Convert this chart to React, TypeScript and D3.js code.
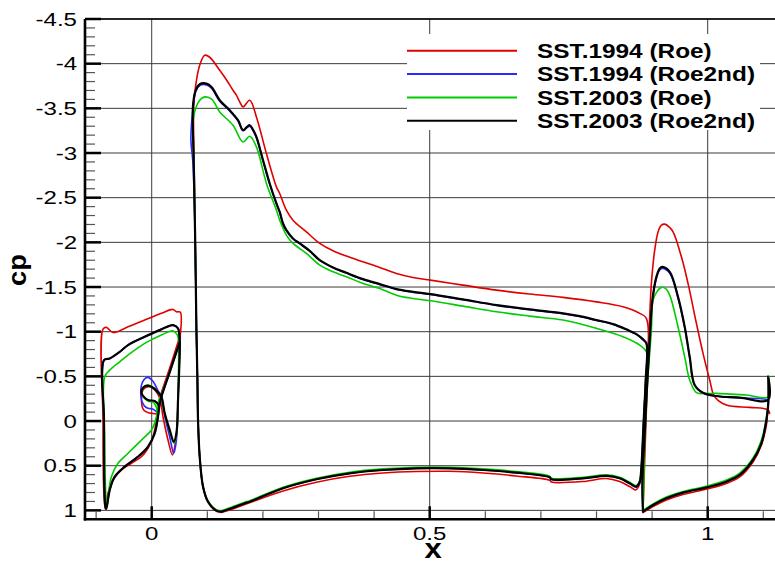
import React from "react";
import * as d3 from "d3";

type P = [number, number];

// ---------- tick values ----------
const yMajorTicks = [-4.5, -4, -3.5, -3, -2.5, -2, -1.5, -1, -0.5, 0, 0.5, 1];
const yTickLabels = ["-4.5", "-4", "-3.5", "-3", "-2.5", "-2", "-1.5", "-1", "-0.5", "0", "0.5", "1"];
const xMajorTicks = [0, 0.5, 1];
const xTickLabels = ["0", "0.5", "1"];

// ---------- series ----------
const seriesNames = ["SST.1994 (Roe)", "SST.1994 (Roe2nd)", "SST.2003 (Roe)", "SST.2003 (Roe2nd)"];
const seriesColors = ["#e00000", "#2a2aff", "#00cc00", "#000000"];

// SST.1994 (Roe)
const roe94Slat: P[] = [[0.0513,-0.962],[0.0513,-1.219],[0.0444,-1.223],[0.0383,-1.249],[0.0174,-1.205],[-0.0126,-1.130],[-0.0426,-1.055],[-0.0696,-0.992],[-0.0815,-1.048],[-0.0876,-1.029],[-0.0876,-0.011],[-0.0863,0.772],[-0.0836,0.984],[-0.0786,0.809],[-0.0696,0.660],[-0.0545,0.548],[-0.0365,0.473],[-0.0185,0.399],[-0.0067,0.305],[0.0023,0.176],[0.0085,-0.011],[0.0113,-0.160],[0.0144,-0.257],[0.0324,-0.593],[0.0513,-0.962]];
const roe94Cove: P[] = [[0.0095,-0.08],[0.0030,-0.085],[-0.0036,-0.089],[-0.0144,-0.123],[-0.0185,-0.257],[-0.0144,-0.358],[-0.0036,-0.384],[0.0054,-0.347],[0.0144,-0.257],[0.0203,-0.048],[0.0293,0.213],[0.0372,0.380],[0.0414,0.287],[0.0455,0.064],[0.0473,-0.235],[0.0491,-0.607],[0.0513,-0.962]];
const roe94Main: P[] = [[0.1254,1.023],[0.1164,1.01],[0.1013,0.91],[0.0923,0.74],[0.0863,0.40],[0.0833,-0.011],[0.0822,-0.459],[0.0804,-1.018],[0.0782,-2.025],[0.0765,-2.8],[0.0755,-3.516],[0.0791,-3.758],[0.0863,-3.982],[0.0953,-4.094],[0.1043,-4.072],[0.1223,-3.926],[0.1343,-3.82],[0.1462,-3.702],[0.1523,-3.647],[0.1583,-3.572],[0.1642,-3.516],[0.1763,-3.591],[0.1883,-3.404],[0.2063,-2.994],[0.2243,-2.621],[0.2302,-2.547],[0.2422,-2.360],[0.2541,-2.248],[0.2782,-2.117],[0.3022,-1.988],[0.3261,-1.905],[0.3501,-1.846],[0.3801,-1.782],[0.4101,-1.719],[0.4401,-1.652],[0.4700,-1.607],[0.5012,-1.577],[0.5599,-1.521],[0.6200,-1.465],[0.6799,-1.421],[0.7398,-1.384],[0.7998,-1.334],[0.8477,-1.279],[0.8777,-1.205],[0.8897,-1.149],[0.8867,-0.235],[0.8813,0.548],[0.8777,0.705],[0.8705,0.772],[0.8597,0.733],[0.8417,0.677],[0.8178,0.643],[0.7758,0.677],[0.7189,0.682],[0.7158,0.663],[0.6559,0.615],[0.5959,0.582],[0.5360,0.563],[0.4761,0.565],[0.4160,0.582],[0.3561,0.619],[0.2962,0.686],[0.2362,0.783],[0.1673,0.935],[0.1433,0.99],[0.1254,1.023]];
const roe94Flap: P[] = [[0.8836,1.025],[0.8850,0.75],[0.8867,0.436],[0.8903,-0.235],[0.8957,-1.167],[0.8987,-1.540],[0.9047,-1.913],[0.9107,-2.117],[0.9167,-2.192],[0.9227,-2.204],[0.9305,-2.173],[0.9377,-2.117],[0.9527,-1.838],[0.9646,-1.540],[0.9797,-1.093],[0.9916,-0.757],[1.0036,-0.459],[1.0126,-0.272],[1.0336,-0.179],[1.0755,-0.153],[1.1056,-0.131],[1.1115,-0.086],[1.1088,-0.123],[1.1056,0.045],[1.0966,0.268],[1.0815,0.459],[1.0576,0.626],[1.0336,0.699],[0.9988,0.761],[0.9556,0.822],[0.9257,0.884],[0.9017,0.957],[0.8836,1.025]];

// SST.1994 (Roe2nd)
const roe2nd94Slat: P[] = [[0.0504,-0.884],[0.0495,-0.973],[0.0473,-1.037],[0.0383,-1.074],[0.0174,-1.026],[-0.0126,-0.943],[-0.0426,-0.850],[-0.0576,-0.775],[-0.0755,-0.701],[-0.0858,-0.682],[-0.0858,-0.011],[-0.0854,0.66],[-0.0833,0.959],[-0.0818,0.984],[-0.0755,0.772],[-0.0665,0.623],[-0.0486,0.511],[-0.0246,0.399],[-0.0067,0.287],[0.0054,0.138],[0.0113,-0.048],[0.0144,-0.198],[0.0174,-0.272],[0.0324,-0.548],[0.0504,-0.884]];
const roe2nd94Cove: P[] = [[0.0110,-0.09],[0.0018,-0.135],[-0.0067,-0.142],[-0.0144,-0.179],[-0.0198,-0.313],[-0.0144,-0.459],[-0.0067,-0.489],[0.0018,-0.447],[0.0108,-0.347],[0.0174,-0.272],[0.0234,-0.056],[0.0324,0.179],[0.0396,0.361],[0.0444,0.213],[0.0473,-0.235],[0.0504,-0.794],[0.0504,-0.884]];
const roe2nd94Main: P[] = [[0.1254,1.015],[0.1164,1.003],[0.1013,0.903],[0.0923,0.735],[0.0863,0.399],[0.0833,-0.011],[0.0822,-0.459],[0.0804,-1.018],[0.0782,-2.025],[0.0740,-2.9],[0.0705,-3.15],[0.0743,-3.50],[0.0791,-3.690],[0.0863,-3.755],[0.0984,-3.762],[0.1079,-3.722],[0.1223,-3.580],[0.1403,-3.470],[0.1552,-3.360],[0.1642,-3.250],[0.1709,-3.282],[0.1763,-3.300],[0.1817,-3.258],[0.1883,-3.172],[0.2002,-2.912],[0.2122,-2.652],[0.2243,-2.430],[0.2302,-2.336],[0.2362,-2.206],[0.2422,-2.132],[0.2541,-2.040],[0.2662,-1.985],[0.2842,-1.902],[0.3022,-1.798],[0.3261,-1.716],[0.3501,-1.656],[0.3801,-1.585],[0.4101,-1.529],[0.4401,-1.474],[0.4700,-1.443],[0.5012,-1.418],[0.5599,-1.358],[0.6200,-1.295],[0.6799,-1.246],[0.7398,-1.202],[0.7698,-1.171],[0.7998,-1.127],[0.8297,-1.082],[0.8537,-1.023],[0.8717,-0.970],[0.8837,-0.911],[0.8898,-0.866],[0.8885,-0.459],[0.8849,-0.011],[0.8804,0.548],[0.8777,0.685],[0.8717,0.740],[0.8597,0.700],[0.8417,0.641],[0.8178,0.612],[0.7758,0.641],[0.7189,0.652],[0.7158,0.630],[0.6559,0.578],[0.5959,0.548],[0.5360,0.529],[0.4761,0.529],[0.4160,0.548],[0.3561,0.585],[0.2962,0.652],[0.2362,0.753],[0.1763,0.903],[0.1673,0.921],[0.1433,0.977],[0.1254,1.015]];
const roe2nd94Flap: P[] = [[0.8836,1.015],[0.8825,0.697],[0.8867,0.138],[0.8909,-0.384],[0.8957,-0.895],[0.9005,-1.335],[0.9077,-1.595],[0.9137,-1.690],[0.9185,-1.708],[0.9317,-1.655],[0.9466,-1.380],[0.9586,-1.048],[0.9676,-0.712],[0.9766,-0.400],[0.9915,-0.314],[1.0155,-0.278],[1.0576,-0.259],[1.1085,-0.233],[1.1090,-0.20],[1.1056,-0.011],[1.0966,0.249],[1.0815,0.436],[1.0576,0.604],[1.0336,0.679],[0.9988,0.742],[0.9556,0.802],[0.9257,0.865],[0.9017,0.940],[0.8836,1.015]];

// SST.2003 (Roe)
const roe03Slat: P[] = [[0.0486,-0.850],[0.0477,-0.928],[0.0462,-0.962],[0.0383,-1.010],[0.0174,-0.962],[-0.0126,-0.869],[-0.0426,-0.738],[-0.0576,-0.663],[-0.0755,-0.570],[-0.0845,-0.496],[-0.0845,0.213],[-0.0827,0.828],[-0.0809,0.973],[-0.0782,0.828],[-0.0725,0.623],[-0.0606,0.473],[-0.0426,0.361],[-0.0185,0.213],[-0.0005,0.101],[0.0085,-0.048],[0.0113,-0.198],[0.0162,-0.280],[0.0324,-0.548],[0.0486,-0.850]];
const roe03Cove: P[] = [[0.0100,-0.12],[0.0036,-0.205],[-0.0067,-0.224],[-0.0185,-0.313],[-0.0144,-0.380],[-0.0067,-0.403],[0.0036,-0.375],[0.0108,-0.324],[0.0162,-0.280],[0.0234,-0.078],[0.0324,0.112],[0.0401,0.249],[0.0444,0.157],[0.0473,-0.235],[0.0486,-0.850]];
const roe03Main: P[] = [[0.1254,1.005],[0.1164,0.993],[0.1013,0.895],[0.0923,0.73],[0.0863,0.395],[0.0833,-0.011],[0.0822,-0.459],[0.0804,-1.018],[0.0782,-2.025],[0.0760,-2.9],[0.0737,-3.311],[0.0791,-3.501],[0.0863,-3.591],[0.0953,-3.628],[0.1079,-3.602],[0.1223,-3.460],[0.1462,-3.311],[0.1642,-3.124],[0.1763,-3.188],[0.1883,-3.068],[0.2063,-2.66],[0.2243,-2.36],[0.2302,-2.248],[0.2422,-2.081],[0.2541,-1.988],[0.2782,-1.876],[0.3022,-1.745],[0.3261,-1.670],[0.3501,-1.614],[0.3801,-1.540],[0.4101,-1.484],[0.4401,-1.409],[0.4700,-1.372],[0.5012,-1.346],[0.5599,-1.286],[0.6200,-1.223],[0.6799,-1.174],[0.7398,-1.130],[0.7998,-1.037],[0.8477,-0.943],[0.8777,-0.850],[0.8897,-0.775],[0.8885,-0.459],[0.8849,-0.011],[0.8804,0.540],[0.8777,0.67],[0.8717,0.723],[0.8597,0.685],[0.8417,0.629],[0.8178,0.603],[0.7758,0.629],[0.7189,0.640],[0.7158,0.618],[0.6559,0.566],[0.5959,0.536],[0.5360,0.517],[0.4761,0.517],[0.4160,0.536],[0.3561,0.573],[0.2962,0.640],[0.2362,0.741],[0.1763,0.891],[0.1673,0.909],[0.1433,0.965],[0.1254,1.005]];
const roe03Flap: P[] = [[0.8836,1.0],[0.8850,0.7],[0.8867,0.213],[0.8921,-0.459],[0.8987,-1.018],[0.9017,-1.353],[0.9083,-1.443],[0.9167,-1.496],[0.9245,-1.482],[0.9317,-1.409],[0.9466,-1.055],[0.9586,-0.719],[0.9676,-0.459],[0.9797,-0.317],[0.9946,-0.308],[1.0155,-0.310],[1.0696,-0.291],[1.1085,-0.272],[1.1090,-0.51],[1.1090,-0.22],[1.1056,-0.034],[1.0966,0.213],[1.0815,0.414],[1.0576,0.582],[1.0336,0.660],[0.9988,0.727],[0.9556,0.789],[0.9257,0.850],[0.9017,0.928],[0.8836,1.0]];

// SST.2003 (Roe2nd)
const roe2nd03Slat: P[] = [[0.0504,-0.884],[0.0495,-0.973],[0.0473,-1.037],[0.0383,-1.074],[0.0174,-1.026],[-0.0126,-0.943],[-0.0426,-0.850],[-0.0576,-0.775],[-0.0755,-0.701],[-0.0858,-0.682],[-0.0858,-0.011],[-0.0854,0.66],[-0.0833,0.959],[-0.0818,0.984],[-0.0755,0.772],[-0.0665,0.623],[-0.0486,0.511],[-0.0246,0.399],[-0.0067,0.287],[0.0054,0.138],[0.0113,-0.048],[0.0144,-0.198],[0.0174,-0.272],[0.0324,-0.548],[0.0504,-0.884]];
const roe2nd03Cove: P[] = [[0.0135,-0.17],[0.0054,-0.225],[-0.0067,-0.235],[-0.0185,-0.313],[-0.0144,-0.380],[-0.0067,-0.397],[0.0036,-0.369],[0.0108,-0.324],[0.0174,-0.272],[0.0234,-0.086],[0.0324,0.101],[0.0396,0.232],[0.0444,0.138],[0.0473,-0.235],[0.0504,-0.794],[0.0504,-0.884]];
const roe2nd03Main: P[] = [[0.1254,1.015],[0.1164,1.003],[0.1013,0.903],[0.0923,0.735],[0.0863,0.399],[0.0833,-0.011],[0.0822,-0.459],[0.0804,-1.018],[0.0782,-2.025],[0.0755,-2.919],[0.0743,-3.535],[0.0791,-3.702],[0.0863,-3.770],[0.0984,-3.777],[0.1079,-3.736],[0.1223,-3.591],[0.1403,-3.479],[0.1552,-3.367],[0.1642,-3.255],[0.1709,-3.289],[0.1763,-3.311],[0.1817,-3.266],[0.1883,-3.180],[0.2002,-2.919],[0.2122,-2.659],[0.2243,-2.435],[0.2302,-2.341],[0.2362,-2.211],[0.2422,-2.136],[0.2541,-2.043],[0.2662,-1.988],[0.2842,-1.905],[0.3022,-1.801],[0.3261,-1.719],[0.3501,-1.659],[0.3801,-1.588],[0.4101,-1.532],[0.4401,-1.477],[0.4700,-1.446],[0.5012,-1.421],[0.5599,-1.361],[0.6200,-1.298],[0.6799,-1.249],[0.7398,-1.205],[0.7698,-1.174],[0.7998,-1.130],[0.8297,-1.085],[0.8537,-1.026],[0.8717,-0.973],[0.8837,-0.914],[0.8898,-0.869],[0.8885,-0.459],[0.8849,-0.011],[0.8804,0.548],[0.8777,0.682],[0.8717,0.735],[0.8597,0.697],[0.8417,0.641],[0.8178,0.615],[0.7758,0.641],[0.7189,0.652],[0.7158,0.630],[0.6559,0.578],[0.5959,0.548],[0.5360,0.529],[0.4761,0.529],[0.4160,0.548],[0.3561,0.585],[0.2962,0.652],[0.2362,0.753],[0.1763,0.903],[0.1673,0.921],[0.1433,0.977],[0.1254,1.015]];
const roe2nd03Flap: P[] = [[0.8836,1.015],[0.8825,0.697],[0.8867,0.138],[0.8909,-0.384],[0.8957,-0.906],[0.9005,-1.353],[0.9077,-1.614],[0.9137,-1.708],[0.9185,-1.726],[0.9317,-1.670],[0.9466,-1.390],[0.9586,-1.055],[0.9676,-0.719],[0.9766,-0.403],[0.9915,-0.317],[1.0155,-0.280],[1.0576,-0.261],[1.1085,-0.235],[1.1088,-0.496],[1.1090,-0.20],[1.1056,-0.011],[1.0966,0.249],[1.0815,0.436],[1.0576,0.604],[1.0336,0.679],[0.9988,0.742],[0.9556,0.802],[0.9257,0.865],[0.9017,0.940],[0.8836,1.015]];

const seriesCurves: P[][][] = [
  [roe94Slat, roe94Cove, roe94Main, roe94Flap],
  [roe2nd94Slat, roe2nd94Cove, roe2nd94Main, roe2nd94Flap],
  [roe03Slat, roe03Cove, roe03Main, roe03Flap],
  [roe2nd03Slat, roe2nd03Cove, roe2nd03Main, roe2nd03Flap],
];

const W = 775;
const H = 561;
const FONT = "'Liberation Sans', Arial, Helvetica, sans-serif";

export default function App() {
  const left = 85;
  const top = 19;
  const bottom = 519.3;
  const xScale = d3.scaleLinear().domain([-0.12, 1.125]).range([left, 777.2]);
  const yScale = d3.scaleLinear().domain([1.1, -4.5]).range([bottom, top]);
  const line = d3
    .line<P>()
    .x((d) => xScale(d[0]))
    .y((d) => yScale(d[1]))
    .curve(d3.curveCatmullRom.alpha(0.5));

  const r1 = (v: number) => Math.round(v * 10) / 10;
  const yMinor = d3.range(-45, 11, 1).map((v) => v / 10).filter((v) => Math.abs(v * 2 - Math.round(v * 2)) > 1e-6);
  const xMinor = d3.range(-1, 12, 1).map((v) => v / 10).filter((v) => Math.abs(v * 2 - Math.round(v * 2)) > 1e-6);

  const legendY = [50.7, 74, 97.5, 120.7];
  const widths = [1.6, 1.6, 1.6, 2.2];

  return (
    <svg
      width={W}
      height={H}
      viewBox={`0 0 ${W} ${H}`}
      style={{ position: "fixed", left: 0, top: 0, background: "#fff" }}
    >
      <rect x={0} y={0} width={W} height={H} fill="#fff" />
      <defs>
        <clipPath id="plotClip">
          <rect x={left} y={top} width={W - left} height={bottom - top} />
        </clipPath>
      </defs>
      {/* gridlines */}
      {yMajorTicks.map((v) => (
        <line key={"gy" + v} x1={left} x2={W} y1={yScale(v)} y2={yScale(v)} stroke="#3a3a3a" strokeWidth={1} />
      ))}
      {xMajorTicks.map((v) => (
        <line key={"gx" + v} x1={xScale(v)} x2={xScale(v)} y1={top} y2={bottom} stroke="#3a3a3a" strokeWidth={1} />
      ))}
      {/* ticks */}
      {yMinor.map((v) => (
        <line key={"ym" + v} x1={left} x2={left + 10} y1={yScale(r1(v))} y2={yScale(r1(v))} stroke="#555" strokeWidth={1.2} />
      ))}
      {yMajorTicks.map((v) => (
        <line key={"yM" + v} x1={left} x2={left + 16} y1={yScale(v)} y2={yScale(v)} stroke="#000" strokeWidth={2.5} />
      ))}
      {xMinor.map((v) => (
        <line key={"xm" + v} x1={xScale(r1(v))} x2={xScale(r1(v))} y1={bottom} y2={bottom - 8} stroke="#555" strokeWidth={1.2} />
      ))}
      {xMajorTicks.map((v) => (
        <line key={"xM" + v} x1={xScale(v)} x2={xScale(v)} y1={bottom} y2={bottom - 13} stroke="#000" strokeWidth={2.5} />
      ))}
      {/* data */}
      <g clipPath="url(#plotClip)" fill="none" strokeLinejoin="round" strokeLinecap="round">
        {seriesCurves.map((curves, si) =>
          curves.map((c, ci) => (
            <path key={si + "-" + ci} d={line(c) || ""} stroke={seriesColors[si]} strokeWidth={widths[si]} />
          ))
        )}
      </g>
      {/* frame */}
      <line x1={left} x2={W} y1={top} y2={top} stroke="#000" strokeWidth={1.3} />
      <line x1={left} x2={left} y1={top} y2={bottom + 1.2} stroke="#000" strokeWidth={2.6} />
      <line x1={left - 1.2} x2={W} y1={bottom} y2={bottom} stroke="#000" strokeWidth={2.6} />
      {/* tick labels */}
      {yMajorTicks.map((v, i) => (
        <text
          key={"yl" + v}
          transform={`translate(77,${yScale(v) + 6.6}) scale(1.3,1)`}
          textAnchor="end"
          fontFamily={FONT}
          fontSize={18.5}
          fill="#000"
        >
          {yTickLabels[i]}
        </text>
      ))}
      {xMajorTicks.map((v, i) => (
        <text
          key={"xl" + v}
          transform={`translate(${xScale(v)},539.5) scale(1.3,1)`}
          textAnchor="middle"
          fontFamily={FONT}
          fontSize={18.5}
          fill="#000"
        >
          {xTickLabels[i]}
        </text>
      ))}
      {/* axis titles */}
      <text transform="translate(433,558) scale(1.15,1)" textAnchor="middle" fontFamily={FONT} fontSize={27} fontWeight="bold">
        x
      </text>
      <text transform="translate(26,270) rotate(-90) scale(1.05,1)" textAnchor="middle" fontFamily={FONT} fontSize={26} fontWeight="bold">
        cp
      </text>
      {/* legend */}
      <rect x={407} y={34} width={353} height={96} fill="#fff" />
      {seriesNames.map((name, i) => (
        <g key={"lg" + i}>
          <line x1={407} x2={517} y1={legendY[i]} y2={legendY[i]} stroke={seriesColors[i]} strokeWidth={2} />
          <text
            transform={`translate(537,${legendY[i] + 7}) scale(1.25,1)`}
            fontFamily={FONT}
            fontSize={19.5}
            fontWeight="bold"
            fill="#000"
          >
            {name}
          </text>
        </g>
      ))}
    </svg>
  );
}
